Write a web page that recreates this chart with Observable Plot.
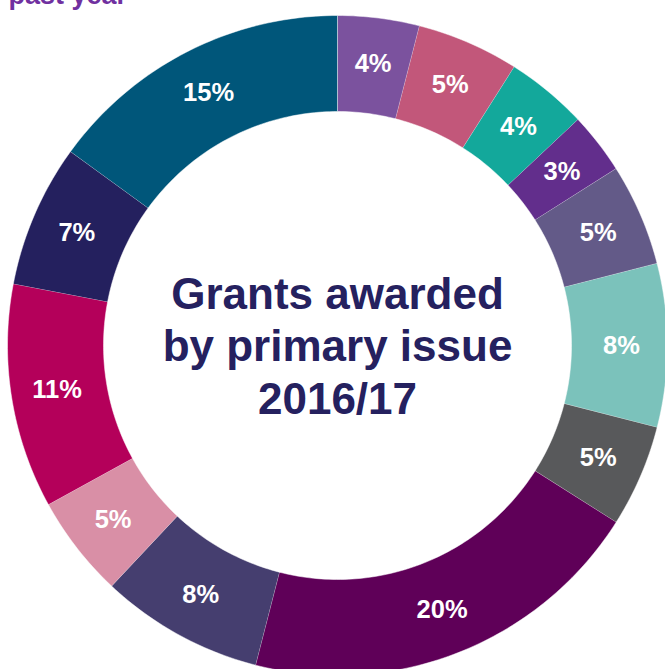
<!DOCTYPE html>
<html>
<head>
<meta charset="utf-8">
<script src="https://cdn.jsdelivr.net/npm/d3@7"></script>
<script src="https://cdn.jsdelivr.net/npm/@observablehq/plot@0.6"></script>
<style>
  html, body { margin: 0; padding: 0; background: #fff; }
  #chart svg { display: block; }
</style>
</head>
<body>
<div id="chart"></div>
<script>
// ---- data (clockwise from 12 o'clock) ----
const categories = ["Issue 1","Issue 2","Issue 3","Issue 4","Issue 5","Issue 6","Issue 7",
                    "Issue 8","Issue 9","Issue 10","Issue 11","Issue 12","Issue 13"];
const shares = [4, 5, 4, 3, 5, 8, 5, 20, 8, 5, 11, 7, 15];
const colors = ["#7b529e","#c2577a","#13a89b","#622e8c","#635a88","#7bc2bb","#58595b",
                "#5f0058","#453e6f","#d98fa6","#b4005a","#24205e","#00567a"];
const titleLines = ["Grants awarded", "by primary issue", "2016/17"];
const topText = "past year";

// ---- geometry ----
const W = 665, H = 669;
const CX = 337, CY = 345;
const R_OUT = 330, R_IN = 234, R_LABEL = 284;
const data = categories.map((c, i) => ({category: c, share: shares[i]}));
const arcs = d3.pie().sort(null).value(d => d.share)(data);

const pts = [];
for (const a of arcs) {
  const n = Math.max(8, Math.ceil((a.endAngle - a.startAngle) * 60));
  const ring = [];
  for (let k = 0; k <= n; k++) ring.push([R_OUT, a.startAngle + (a.endAngle - a.startAngle) * k / n]);
  for (let k = n; k >= 0; k--) ring.push([R_IN, a.startAngle + (a.endAngle - a.startAngle) * k / n]);
  for (const [rho, t] of ring) pts.push({category: a.data.category, x: rho * Math.sin(t), y: rho * Math.cos(t)});
}
const labels = arcs.map(a => {
  const t = (a.startAngle + a.endAngle) / 2;
  return {x: R_LABEL * Math.sin(t), y: R_LABEL * Math.cos(t), text: a.data.share + "%"};
});

const font = "'Liberation Sans', Arial, Helvetica, sans-serif";

const chart = Plot.plot({
  width: W,
  height: H,
  margin: 0,
  style: {background: "#fff", fontFamily: font},
  x: {domain: [-CX, W - CX], axis: null},
  y: {domain: [-(H - CY), CY], axis: null},
  color: {domain: categories, range: colors},
  marks: [
    Plot.line(pts, {x: "x", y: "y", z: "category", fill: "category", stroke: "#ffffff", strokeWidth: 0.5, curve: "linear"}),
    Plot.text(labels, {x: "x", y: "y", text: "text", fill: "#fff", fontSize: 25.5, fontWeight: 700, fontFamily: font, lineAnchor: "middle"}),
    Plot.text([{x: 0, y: 0, t: titleLines.join("\n")}], {x: "x", y: "y", text: "t", dy: -1, fontSize: 44, fontWeight: 700,
      fill: "#25215f", lineHeight: 1.193, lineAnchor: "middle", fontFamily: font}),
    Plot.text([topText], {frameAnchor: "top-left", dx: 8, dy: 3, textAnchor: "start", lineAnchor: "bottom",
      fontSize: 27, fontWeight: 700, fill: "#7030a0", fontFamily: font})
  ]
});
document.getElementById("chart").appendChild(chart);
</script>
</body>
</html>
